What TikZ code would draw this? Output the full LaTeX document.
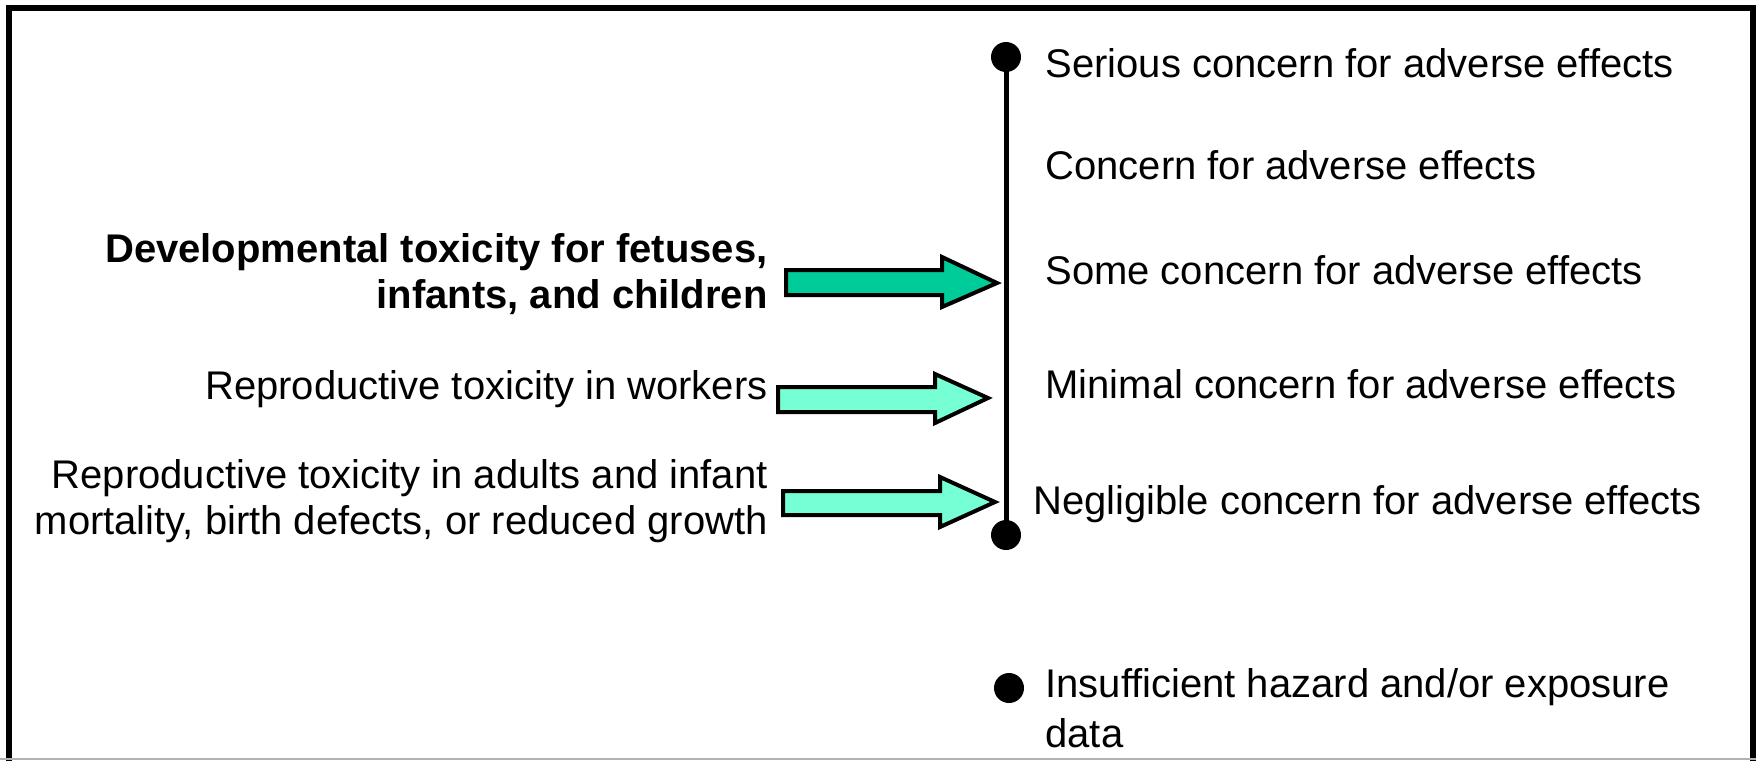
\documentclass[tikz,border=0pt]{standalone}
\usepackage{fontspec}
\setmainfont{Liberation Sans}
\begin{document}
\begin{tikzpicture}[x=0.5pt,y=-0.5pt,
  lbl/.style={inner sep=0pt,anchor=base west,font=\fontsize{20}{23}\selectfont},
  llbl/.style={inner sep=0pt,anchor=base east,font=\fontsize{20}{23}\selectfont},
  blockarrow/.style={draw=black,line width=2pt,line join=miter},
  dot/.style={circle,fill=black,inner sep=0pt,minimum size=15pt}]
\useasboundingbox (0,0) rectangle (1756,761);
\definecolor{darkaqua}{RGB}{0,204,153}
\definecolor{lightaqua}{RGB}{118,255,213}
% frame
\draw[line width=3pt] (9,761) -- (9,8) -- (1753,8) -- (1753,761);
\draw[gray!60,line width=1pt] (0,759) -- (1756,759);
% scale line
\node[dot] (top) at (1006,57) {};
\node[dot] (bot) at (1006,535) {};
\draw[line width=2.5pt] (top.center) -- (bot.center);
\node[dot] (ins) at (1009,688) {};
% right labels
\node[lbl] (l1) at (1045,77) {Serious concern for adverse effects};
\node[lbl] (l2) at (1045,179) {Concern for adverse effects};
\node[lbl] (l3) at (1045,284) {Some concern for adverse effects};
\node[lbl] (l4) at (1045,398) {Minimal concern for adverse effects};
\node[lbl] (l5) at (1033,514) {Negligible concern for adverse effects};
\node[lbl] (l6) at (1045,697) {Insufficient hazard and/or exposure};
\node[lbl] (l7) at (1045,747) {data};
% left labels
\node[llbl,font=\fontsize{20}{23}\selectfont\bfseries] (d1) at (768,262) {Developmental toxicity for fetuses,};
\node[llbl,font=\fontsize{20}{23}\selectfont\bfseries] (d2) at (768,308) {infants, and children};
\node[llbl] (w1) at (768,399) {Reproductive toxicity in workers};
\node[llbl] (a1) at (768,488) {Reproductive toxicity in adults and infant};
\node[llbl] (a2) at (768,534) {mortality, birth defects, or reduced growth};
% block arrows
\draw[blockarrow,fill=darkaqua] (786,270) -- (942,270) -- (942,257) -- (997,283) -- (942,307) -- (942,295) -- (786,295) -- cycle;
\draw[blockarrow,fill=lightaqua] (778,387) -- (935,387) -- (935,374) -- (988,398) -- (935,423) -- (935,412) -- (778,412) -- cycle;
\draw[blockarrow,fill=lightaqua] (783,491) -- (940,491) -- (940,477) -- (995,502) -- (940,527) -- (940,515) -- (783,515) -- cycle;
\end{tikzpicture}
\end{document}
